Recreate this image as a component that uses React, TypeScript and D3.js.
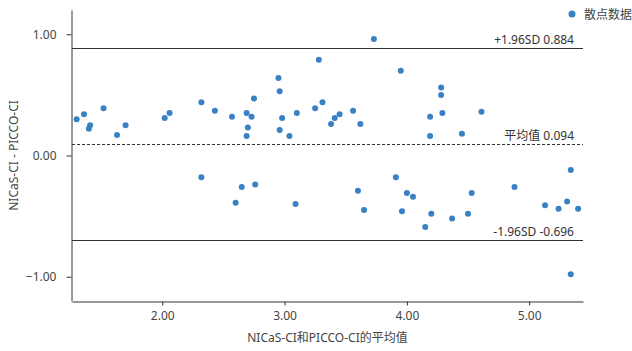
import React, { useEffect, useRef } from 'react';
import * as d3 from 'd3';

// mean of the two methods (x) and their difference (y)
const meanValues = [
  1.30, 1.36, 1.40, 1.41, 1.52, 1.63, 1.70, 2.02, 2.06, 2.32,
  2.43, 2.57, 2.69, 2.73, 2.75, 2.70, 2.69, 2.95, 2.96, 2.98,
  2.96, 3.04, 3.10, 3.25, 3.28, 3.31, 3.38, 3.41, 3.45, 3.56,
  3.62, 3.73, 3.95, 4.19, 4.28, 4.28, 4.29, 4.19, 4.45, 4.61,
  2.32, 2.65, 2.76, 2.60, 3.09, 3.60, 3.65, 3.91, 4.00, 4.05,
  3.96, 4.15, 4.20, 4.37, 4.50, 4.53, 4.88, 5.13, 5.24, 5.31,
  5.40, 5.34, 5.34,
];
const diffValues = [
  0.30, 0.34, 0.22, 0.25, 0.39, 0.17, 0.25, 0.31, 0.35, 0.44,
  0.37, 0.32, 0.35, 0.32, 0.47, 0.23, 0.16, 0.64, 0.53, 0.31,
  0.21, 0.16, 0.35, 0.39, 0.79, 0.44, 0.26, 0.31, 0.34, 0.37,
  0.26, 0.96, 0.70, 0.32, 0.56, 0.50, 0.35, 0.16, 0.18, 0.36,
  -0.18, -0.26, -0.24, -0.39, -0.40, -0.29, -0.45, -0.18, -0.31, -0.34,
  -0.46, -0.59, -0.48, -0.52, -0.48, -0.31, -0.26, -0.41, -0.44, -0.38,
  -0.44, -0.12, -0.98,
];

const refValues = [0.884, 0.094, -0.696];
const refLabels = ['+1.96SD 0.884', '平均值 0.094', '-1.96SD -0.696'];
const refDashed = [false, true, false];

const xTicks = [2, 3, 4, 5];
const yTicks = [-1, 0, 1];
const xDomain = [1.262, 5.44];
const yDomain = [-1.2, 1.2];

const legendLabel = '散点数据';
const xTitle = 'NICaS-CI和PICCO-CI的平均值';
const yTitle = 'NICaS-CI - PICCO-CI';

const font = '"Noto Sans", "Noto Sans CJK SC", sans-serif';

function App() {
  const svgRef = useRef<SVGSVGElement>(null);

  useEffect(() => {
    const width = 632;
    const height = 351;
    const margin = { top: 10, right: 49, bottom: 50, left: 72 };

    const svg = d3.select(svgRef.current);
    svg.selectAll('*').remove();
    svg.attr('width', width).attr('height', height)
      .style('font-family', font);

    const x = d3.scaleLinear().domain(xDomain).range([margin.left, width - margin.right]);
    const y = d3.scaleLinear().domain(yDomain).range([height - margin.bottom, margin.top]);

    // reference lines
    refValues.forEach((v, i) => {
      svg.append('line')
        .attr('x1', margin.left).attr('x2', width - margin.right)
        .attr('y1', Math.round(y(v)) + 0.5).attr('y2', Math.round(y(v)) + 0.5)
        .attr('stroke', '#333')
        .attr('stroke-width', 1)
        .attr('stroke-dasharray', refDashed[i] ? '3,2' : null);
      svg.append('text')
        .attr('x', width - margin.right - 9)
        .attr('y', y(v) - 4)
        .attr('text-anchor', 'end')
        .attr('font-size', 12)
        .attr('fill', '#333')
        .text(refLabels[i]);
    });

    // points
    svg.append('g')
      .selectAll('circle')
      .data(meanValues)
      .join('circle')
      .attr('cx', d => x(d))
      .attr('cy', (_, i) => y(diffValues[i]))
      .attr('r', 3)
      .attr('fill', '#3a80c6');

    // x axis
    const xAxis = svg.append('g')
      .attr('transform', `translate(0,${height - margin.bottom + 0.5})`)
      .call(d3.axisBottom(x).tickValues(xTicks).tickFormat(d3.format('.2f')).tickSize(4).tickSizeOuter(0));
    xAxis.select('.domain').attr('stroke', '#333');
    xAxis.selectAll('.tick line').attr('stroke', '#333');
    xAxis.selectAll('.tick text')
      .attr('fill', '#444').attr('font-size', 12).attr('font-family', font).attr('dy', '0.95em');

    // y axis
    const yAxis = svg.append('g')
      .attr('transform', `translate(${margin.left - 0.5},0)`)
      .call(d3.axisLeft(y).tickValues(yTicks).tickFormat(d3.format('.2f')).tickSize(5).tickSizeOuter(0));
    yAxis.select('.domain').attr('stroke', '#333');
    yAxis.selectAll('.tick line').attr('stroke', '#333');
    yAxis.selectAll('.tick text')
      .attr('fill', '#444').attr('font-size', 12).attr('font-family', font).attr('x', -15);

    // axis titles
    svg.append('text')
      .attr('x', (margin.left + width - margin.right) / 2)
      .attr('y', 342)
      .attr('text-anchor', 'middle')
      .attr('font-size', 12)
      .attr('fill', '#444')
      .text(xTitle);

    svg.append('text')
      .attr('transform', `translate(18,${(margin.top + height - margin.bottom) / 2}) rotate(-90)`)
      .attr('text-anchor', 'middle')
      .attr('font-size', 12)
      .attr('fill', '#444')
      .text(yTitle);

    // legend
    svg.append('circle')
      .attr('cx', 572).attr('cy', 14).attr('r', 3.5)
      .attr('fill', '#3a80c6');
    svg.append('text')
      .attr('x', 584).attr('y', 18.5)
      .attr('font-size', 12)
      .attr('fill', '#444')
      .text(legendLabel);
  }, []);

  return <svg ref={svgRef} style={{ position: 'absolute', left: 0, top: 0, background: '#fff' }}></svg>;
}

export default App;
